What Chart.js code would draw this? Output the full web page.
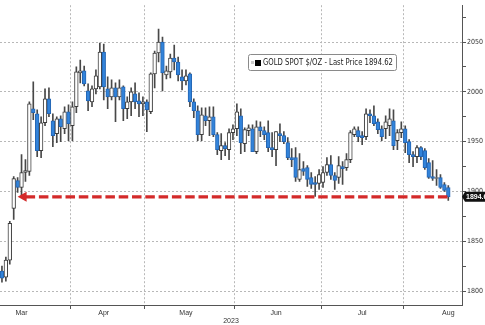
<!DOCTYPE html>
<html>
<head>
<meta charset="utf-8">
<script src="https://cdn.jsdelivr.net/npm/chart.js"></script>
<style>
  html, body { margin: 0; padding: 0; background: #fff; }
  #wrap { width: 485px; height: 325px; }
</style>
</head>
<body>
<div id="wrap"><canvas id="goldChart" width="485" height="325"></canvas></div>

<script>
// daily candles, weekdays from 8 Mar 2023 to 16 Aug 2023 (no bar on Good Friday)
const firstDay = '2023-03-08';
const lastDay = '2023-08-16';
const holidays = ['2023-04-07'];
const spareSlots = 3;   // empty room after the last candle

const opens = [
  1820, 1814, 1831, 1883, 1911, 1904, 1919, 1920, 1983, 1978, 1941, 1969, 1993, 1971, 1958, 1973, 1963, 1980,
  1966, 1985, 2019, 2021, 2001, 1990, 2003, 2005, 2040, 2003, 1995, 2004, 1995, 2005, 1983, 1990, 1998, 1991, 1988,
  1990, 1980, 2018, 2039, 2050, 2017, 2020, 2034, 2030, 2015, 2011, 2018, 1990, 1981, 1957, 1976, 1971, 1975, 1957, 1941, 1946, 1942, 1959,
  1963, 1976, 1948, 1961, 1963, 1940, 1965, 1961, 1959, 1944, 1942, 1958, 1956, 1949, 1934, 1934, 1912, 1923, 1924, 1914, 1909, 1908,
  1909, 1919, 1927, 1916, 1914, 1925, 1924, 1932, 1957, 1961, 1956, 1955, 1978, 1976, 1970, 1963, 1963, 1966, 1971, 1951, 1959,
  1963, 1950, 1937, 1935, 1944, 1941, 1929, 1915, 1913, 1914, 1907, 1904
];
const highs = [
  1825, 1834, 1870, 1915, 1914, 1937, 1932, 1990, 2010, 1982, 1975, 2003, 2004, 1978, 1975, 1976, 1985, 1987,
  1990, 2025, 2032, 2026, 2008, 2006, 2022, 2049, 2048, 2015, 2012, 2009, 2012, 2006, 1995, 2004, 2009, 1999, 1995,
  1992, 2019, 2041, 2063, 2055, 2026, 2038, 2047, 2035, 2022, 2022, 2019, 1993, 1986, 1984, 1984, 1985, 1985, 1959, 1958, 1949, 1963, 1967,
  1988, 1983, 1964, 1967, 1967, 1971, 1970, 1965, 1971, 1959, 1960, 1968, 1960, 1954, 1943, 1944, 1938, 1930, 1926, 1919, 1915, 1922,
  1925, 1934, 1936, 1919, 1935, 1930, 1938, 1961, 1965, 1965, 1960, 1983, 1982, 1986, 1973, 1966, 1976, 1983, 1982, 1962, 1970,
  1966, 1952, 1940, 1946, 1945, 1943, 1933, 1931, 1922, 1917, 1909, 1906
];
const lows = [
  1809, 1810, 1827, 1872, 1899, 1896, 1910, 1916, 1972, 1935, 1934, 1966, 1975, 1945, 1949, 1950, 1958, 1951,
  1951, 1979, 2009, 2006, 1981, 1985, 1998, 2003, 1992, 1983, 1992, 1970, 1992, 1971, 1973, 1976, 1983, 1975, 1976,
  1960, 1978, 2004, 2030, 2001, 2013, 2014, 2022, 2011, 2002, 2007, 1985, 1974, 1951, 1951, 1966, 1956, 1955, 1937, 1932, 1936, 1932, 1952,
  1956, 1938, 1940, 1956, 1940, 1938, 1955, 1952, 1940, 1935, 1926, 1950, 1948, 1932, 1925, 1910, 1910, 1916, 1905, 1903, 1895, 1902,
  1904, 1916, 1912, 1902, 1908, 1907, 1921, 1929, 1955, 1950, 1947, 1952, 1969, 1966, 1958, 1951, 1953, 1956, 1942, 1942, 1954,
  1939, 1929, 1925, 1929, 1932, 1922, 1913, 1911, 1906, 1903, 1900, 1891
];
const closes = [
  1813, 1831, 1868, 1913, 1904, 1919, 1921, 1988, 1979, 1941, 1969, 1993, 1978, 1956, 1973, 1965, 1980, 1968,
  1985, 2020, 2021, 2008, 1991, 2003, 2016, 2040, 2005, 1995, 2004, 1995, 2004, 1983, 1990, 2000, 1990, 1988, 1990,
  1982, 2018, 2039, 2050, 2019, 2021, 2034, 2030, 2017, 2011, 2016, 1990, 1981, 1957, 1977, 1971, 1975, 1957, 1942, 1946, 1943, 1959, 1963,
  1980, 1949, 1962, 1964, 1940, 1965, 1961, 1957, 1944, 1942, 1960, 1956, 1950, 1934, 1932, 1914, 1922, 1920, 1912, 1907, 1907, 1917,
  1919, 1927, 1916, 1911, 1926, 1923, 1932, 1959, 1963, 1955, 1954, 1978, 1976, 1968, 1962, 1955, 1970, 1973, 1946, 1959, 1963,
  1949, 1937, 1935, 1944, 1935, 1924, 1914, 1913, 1914, 1904, 1901, 1894.62
];

const monthNames = ['Mar', 'Apr', 'May', 'Jun', 'Jul', 'Aug'];
const monthLabelAt = [5, 26, 47, 70, 92, 114];
const monthStartAt = [18, 37, 60, 82, 103];
const yLabels = [1800, 1850, 1900, 1950, 2000, 2050];
const yearLabel = '2023';
const lastPrice = 1894.62;
const seriesName = 'GOLD SPOT $/OZ - Last Price 1894.62';

// category labels: the trading days
let dates = [];
let d = new Date(firstDay + 'T00:00:00Z');
const end = new Date(lastDay + 'T00:00:00Z');
while (d <= end) {
  const s = d.toISOString().slice(0, 10);
  const wd = d.getUTCDay();
  if (wd !== 0 && wd !== 6 && !holidays.includes(s)) dates.push(s);
  d.setUTCDate(d.getUTCDate() + 1);
}
for (let k = 0; k < spareSlots; k++) dates.push('');

const wicks = lows.map((l, i) => [l, highs[i]]);
const bodies = opens.map((o, i) => [o, closes[i]]);
const isUp = i => closes[i] >= opens[i];

const BLUE = '#3283da';
const BLUE_EDGE = '#2466b4';
const INK = '#3c3c3c';
const GRID = '#b8b8b8';
const NONE = 'rgba(0,0,0,0)';

const overlay = {
  id: 'overlay',
  afterDatasetsDraw(chart) {
    const { ctx, scales: { x, y } } = chart;
    const yy = y.getPixelForValue(lastPrice);
    const tip = x.getPixelForValue(4);
    const stop = x.getPixelForValue(closes.length - 1) + 2;
    ctx.save();
    ctx.strokeStyle = '#d42a2a';
    ctx.fillStyle = '#d42a2a';
    ctx.lineWidth = 3.2;
    ctx.setLineDash([9.5, 3.8]);
    ctx.beginPath();
    ctx.moveTo(tip + 8, yy);
    ctx.lineTo(stop, yy);
    ctx.stroke();
    ctx.setLineDash([]);
    ctx.beginPath();
    ctx.moveTo(tip, yy);
    ctx.lineTo(tip + 9, yy - 5);
    ctx.lineTo(tip + 9, yy + 5);
    ctx.closePath();
    ctx.fill();
    ctx.restore();
  },
  afterDraw(chart) {
    const { ctx, scales: { y } } = chart;
    ctx.save();
    // series box
    ctx.beginPath();
    ctx.roundRect(248.5, 54.5, 148, 16, 2);
    ctx.fillStyle = '#fff';
    ctx.fill();
    ctx.strokeStyle = '#8a8a8a';
    ctx.lineWidth = 1;
    ctx.stroke();
    ctx.fillStyle = '#ccc';
    ctx.fillRect(251, 61, 3, 3);
    ctx.fillStyle = '#000';
    ctx.fillRect(255, 60, 6, 6);
    ctx.fillStyle = '#222';
    ctx.font = '8px "DejaVu Sans"';
    ctx.textBaseline = 'middle';
    ctx.fillText(seriesName, 263, 63, 130);

    // last price tag on the axis
    const yy = y.getPixelForValue(lastPrice);
    const x0 = y.left;
    ctx.beginPath();
    ctx.moveTo(x0, yy);
    ctx.lineTo(x0 + 3, yy - 5);
    ctx.lineTo(x0 + 30, yy - 5);
    ctx.lineTo(x0 + 30, yy + 5);
    ctx.lineTo(x0 + 3, yy + 5);
    ctx.closePath();
    ctx.fillStyle = '#111';
    ctx.fill();
    ctx.fillStyle = '#fff';
    ctx.font = 'bold 7px "Liberation Sans"';
    ctx.fillText(lastPrice.toFixed(2), x0 + 4, yy + 0.5);
    ctx.restore();
  }
};

new Chart(document.getElementById('goldChart'), {
  type: 'bar',
  data: {
    labels: dates,
    datasets: [
      {
        label: 'body',
        data: bodies,
        order: 0,
        grouped: false,
        barThickness: 3.7,
        minBarLength: 1,
        borderWidth: 1,
        borderSkipped: false,
        backgroundColor: c => isUp(c.dataIndex) ? '#fff' : BLUE,
        borderColor: c => isUp(c.dataIndex) ? INK : BLUE_EDGE
      },
      {
        label: 'wick',
        data: wicks,
        order: 1,
        grouped: false,
        barThickness: 1,
        borderWidth: 0,
        backgroundColor: '#484848'
      }
    ]
  },
  options: {
    responsive: false,
    animation: false,
    devicePixelRatio: 1,
    layout: { padding: 0 },
    plugins: {
      legend: { display: false },
      tooltip: { enabled: false }
    },
    scales: {
      x: {
        offset: true,
        afterFit: s => { s.height = 20; },
        border: { display: true, color: '#555', dash: [2, 2] },
        grid: {
          offset: true,
          color: c => monthStartAt.includes(c.index) ? GRID : NONE,
          tickColor: c => monthStartAt.includes(c.index) ? '#555' : NONE,
          tickLength: 4
        },
        ticks: {
          autoSkip: false,
          maxRotation: 0,
          padding: 0,
          color: '#333',
          font: { size: 7, family: 'Liberation Sans' },
          callback: (v, i) => {
            const k = monthLabelAt.indexOf(i);
            return k >= 0 ? monthNames[k] : '';
          }
        },
        title: {
          display: true,
          text: yearLabel,
          color: '#333',
          padding: 0,
          font: { size: 7, family: 'Liberation Sans' }
        }
      },
      y: {
        position: 'right',
        min: 1786,
        max: 2087,
        afterFit: s => { s.width = 23; },
        border: { display: true, color: '#555', dash: [2, 2] },
        grid: {
          color: c => (c.tick && yLabels.includes(c.tick.value)) ? GRID : NONE,
          tickColor: '#555',
          tickLength: 4
        },
        ticks: {
          stepSize: 25,
          includeBounds: false,
          padding: 1,
          color: '#333',
          font: { size: 7, family: "'Liberation Sans Narrow', 'DejaVu Sans Condensed', 'Liberation Sans'" },
          callback: v => yLabels.includes(v) ? String(v) : ''
        }
      }
    }
  },
  plugins: [overlay]
});
</script>
</body>
</html>
